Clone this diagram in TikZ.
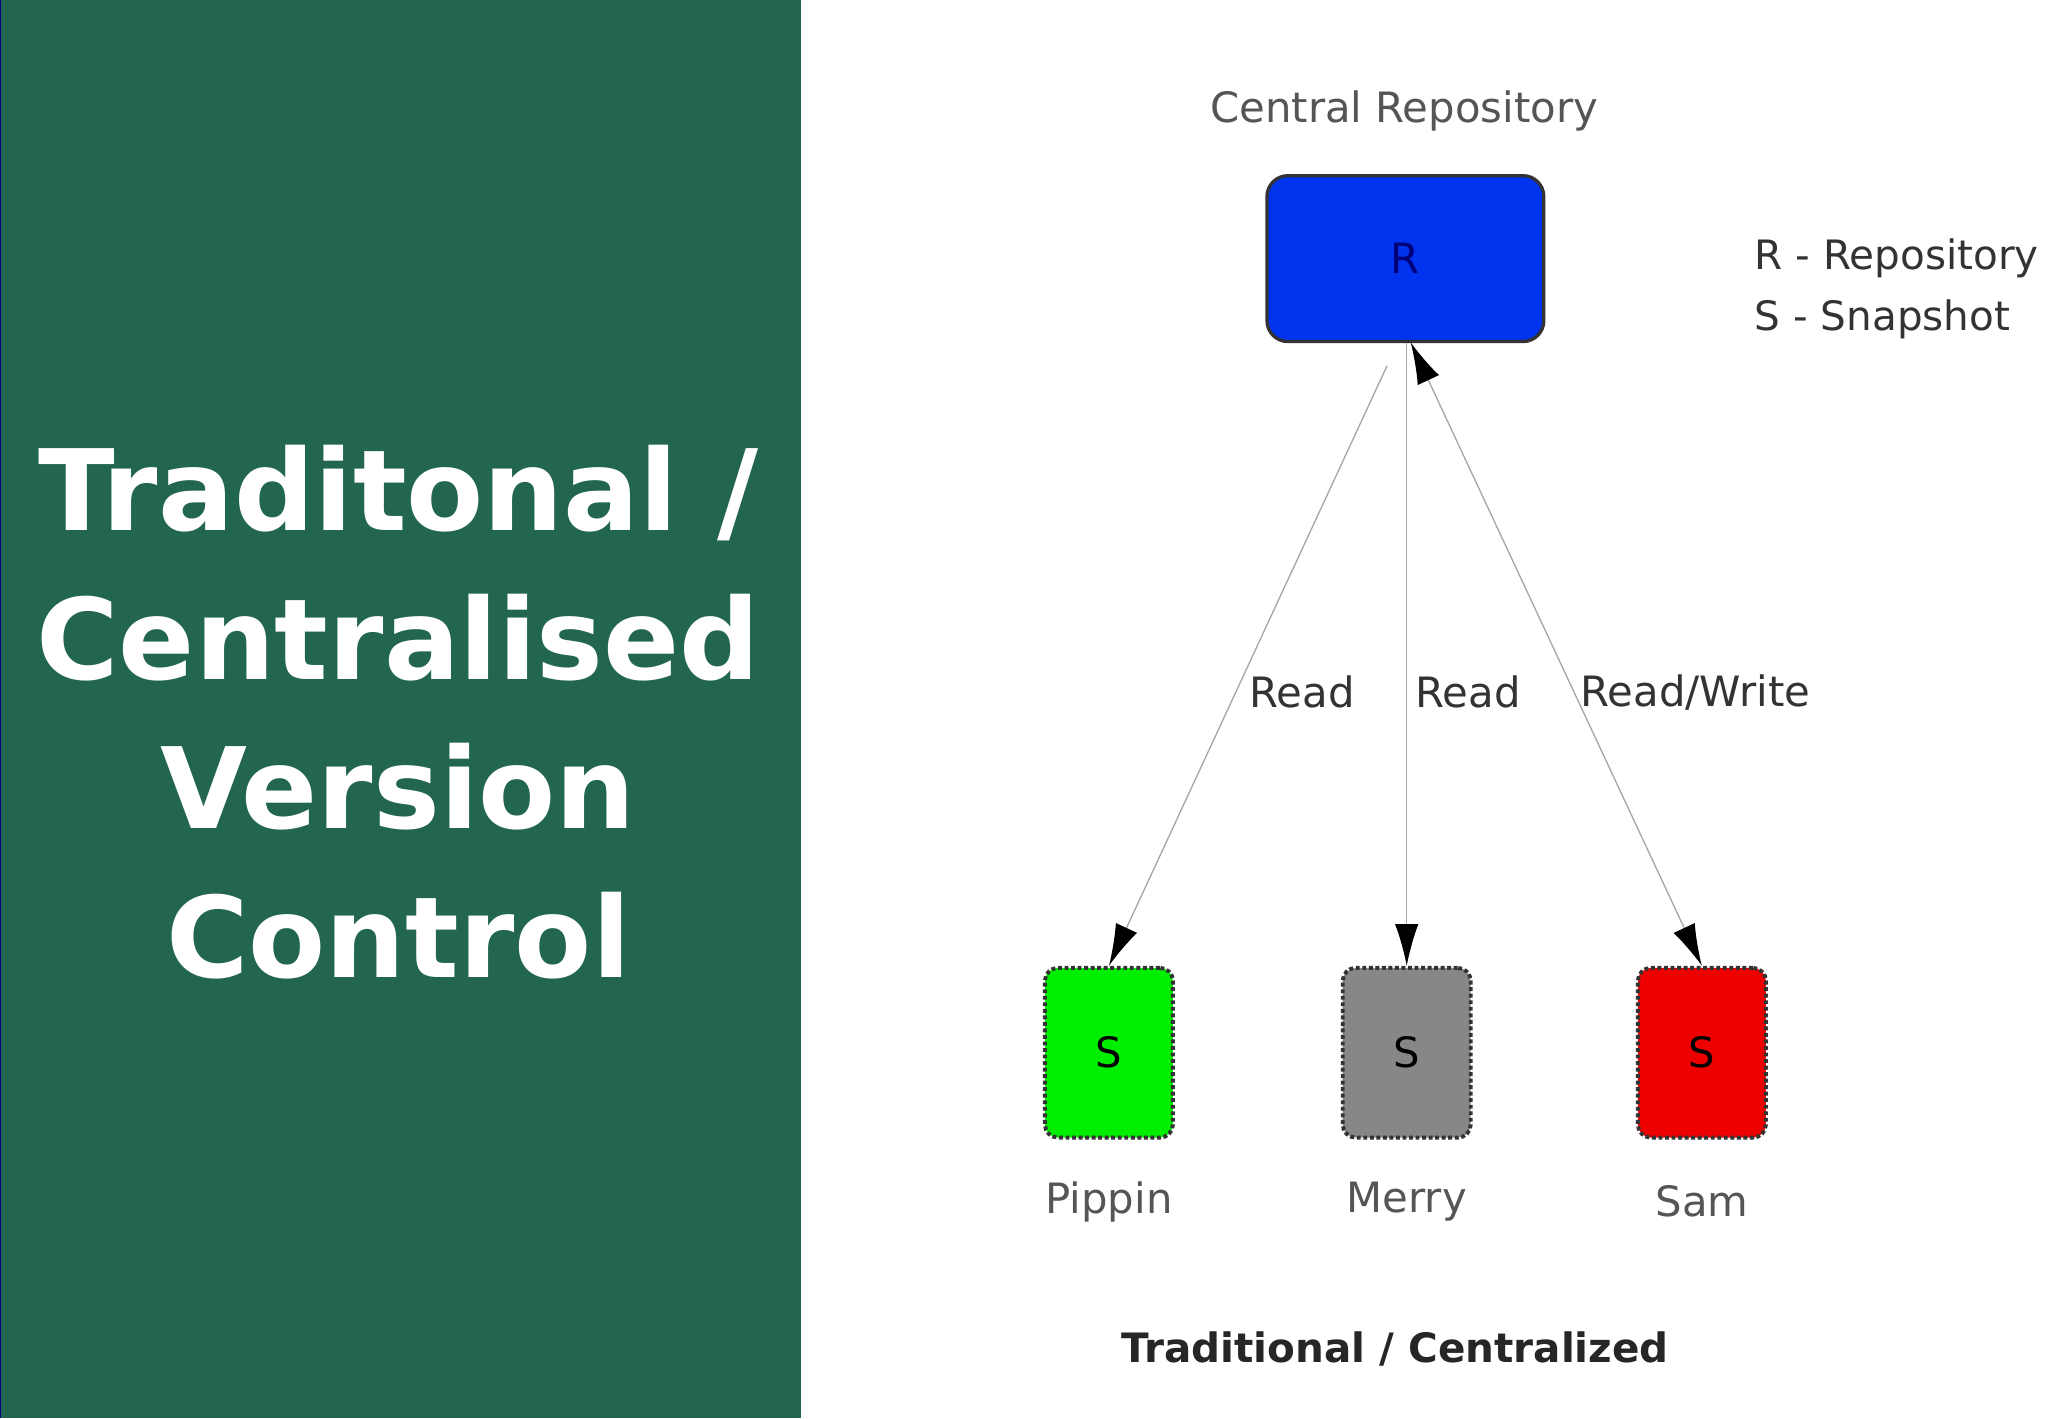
\documentclass[tikz,border=0pt]{standalone}
\usepackage{fontspec}
\setmainfont{DejaVu Sans}
\usetikzlibrary{arrows.meta}
\definecolor{panel}{HTML}{226650}
\definecolor{lbl}{HTML}{555555}
\begin{document}
\begin{tikzpicture}[x=1pt,y=-1pt,
  lab/.style={text=lbl,font=\fontsize{32}{34}\selectfont},
  snap/.style={draw=black!80,dotted,line width=3pt,rounded corners=10pt,minimum width=98pt,minimum height=130pt,font=\fontsize{32}{34}\selectfont},
  conn/.style={draw=black!35,line width=1pt,-{Latex[length=32pt,width=18pt,black]}}]
\useasboundingbox (0,0) rectangle (1568,1086);
\fill[white] (0,0) rectangle (1568,1086);
\fill[panel] (0,0) rectangle (613,1086);
\draw[blue!50!black,line width=1pt] (0.5,0) -- (0.5,1086);
\node (t) [text=white,font=\fontsize{86}{114}\selectfont\bfseries,align=center] at (305,545) {Traditonal /\\Centralised\\Version\\Control};
\node (cr) [lab] at (1075,85) {Central Repository};
\node (R) [draw=black!80,fill={rgb,255:red,0;green,51;blue,238},line width=2.5pt,rounded corners=16pt,minimum width=212pt,minimum height=127pt,text={rgb,255:red,0;green,0;blue,120},font=\fontsize{32}{34}\selectfont] at (1076,198) {R};
\node (leg) [font=\fontsize{31}{47}\selectfont,text=black!80,align=left,anchor=west] at (1340,221) {R - Repository\\S - Snapshot};
\node (P) [snap,fill={rgb,255:red,0;green,238;blue,0}] at (849,806) {S};
\node (M) [snap,fill=black!47] at (1077,806) {S};
\node (S) [snap,fill={rgb,255:red,238;green,0;blue,0}] at (1303,806) {S};
\node [lab] at (849,920) {Pippin};
\node [lab] at (1077,920) {Merry};
\node [lab] at (1303,920) {Sam};
\draw[conn] (1062,280) -- (P.north);
\draw[conn] (M.north |- R.south) -- (M.north);
\draw[conn,{Latex[length=32pt,width=18pt,black]}-{Latex[length=32pt,width=18pt,black]}] (1080,262) -- (S.north);
\node [lab,text=black!80] at (997,530) {Read};
\node [lab,text=black!80] at (1124,530) {Read};
\node [lab,text=black!80] at (1298,530) {Read/Write};
\node [font=\fontsize{31}{34}\selectfont\bfseries,text=black!85] at (1068,1033) {Traditional / Centralized};
\end{tikzpicture}
\end{document}
